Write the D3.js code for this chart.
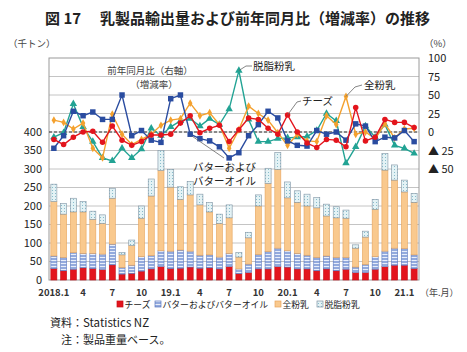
<!DOCTYPE html>
<meta charset="utf-8">
<script src="https://cdn.jsdelivr.net/npm/d3@7"></script>
<style>
  body { margin: 0; background: #fff; }
  text { font-family: "Noto Sans CJK JP", "Noto Sans", sans-serif; fill: #222; }
</style>
<div id="chart"></div>
<script>

// months 2018.1 - 2021.2
var months = ["2018.1","2018.2","2018.3","2018.4","2018.5","2018.6","2018.7","2018.8","2018.9","2018.10","2018.11","2018.12",
              "2019.1","2019.2","2019.3","2019.4","2019.5","2019.6","2019.7","2019.8","2019.9","2019.10","2019.11","2019.12",
              "2020.1","2020.2","2020.3","2020.4","2020.5","2020.6","2020.7","2020.8","2020.9","2020.10","2020.11","2020.12",
              "2021.1","2021.2"];
var tickMonths = ["2018.1","2018.4","2018.7","2018.10","2019.1","2019.4","2019.7","2019.10","2020.1","2020.4","2020.7","2020.10","2021.1"];
var tickLabels = ["2018.1","4","7","10","19.1","4","7","10","20.1","4","7","10","21.1"];

// export volume (thousand tonnes)
var cheese    = [31,25,29,33,31,28,41,16,18,24,30,36,31,32,35,32,33,30,36,17,20,30,30,36,35,30,30,25,30,25,29,20,20,29,36,40,40,31];
var butter    = [34,36,45,39,41,42,56,18,22,39,36,43,47,49,43,35,35,32,36,13,23,39,47,50,44,42,37,36,35,36,32,15,22,34,42,46,45,37];
var wholeMilk = [147,117,110,112,92,83,124,34,53,104,161,217,173,137,152,136,116,91,96,32,71,131,184,213,143,138,133,134,108,107,106,51,74,128,219,184,153,142];
var skimMilk  = [47,29,37,28,22,23,27,6,15,33,46,54,48,34,36,29,25,25,35,12,15,30,41,46,43,31,32,28,32,30,22,9,16,27,45,41,32,24];

// year on year change (%)
var cheeseYoY = [-10,-17,-7,0,1,-14,8,-11,-18,-13,-4,-4,-3,12,22,-1,5,9,-13,3,19,17,5,-3,23,0,-15,-21,-10,-11,-20,33,-12,-7,17,13,13,6];
var butterYoY = [-22,-5,28,22,27,17,17,50,-5,2,-11,-14,45,50,-3,-9,-12,-20,-35,-28,-5,10,28,19,-12,-18,-19,2,-3,0,-11,11,8,-13,-7,-8,2,-13];
var wmpYoY    = [16,13,4,12,-22,-35,24,-3,-17,-10,-3,9,16,18,39,22,26,10,-22,3,35,25,16,-1,-18,-3,-12,-13,22,10,48,-3,0,-9,11,-8,4,5];
var smpYoY    = [-7,-1,38,7,-13,-35,-39,-22,-35,-23,5,-5,7,15,18,8,18,10,31,83,17,-13,-13,-9,-8,-7,-6,2,25,15,-42,-20,8,-7,10,-18,-22,-29];

var leftTicks = [0,50,100,150,200,250,300,350,400];
var rightTicks = [100,75,50,25,0,-25,-50];

var W = 467, H = 352;
var plot = {left: 49, right: 419, top: 58, bottom: 280};

var svg = d3.select("#chart").append("svg")
    .attr("width", W).attr("height", H);

var defs = svg.append("defs");
var pb = defs.append("pattern").attr("id", "butterPat")
    .attr("patternUnits", "userSpaceOnUse").attr("width", 4).attr("height", 3);
pb.append("rect").attr("width", 4).attr("height", 3).attr("fill", "#93aadd");
pb.append("rect").attr("y", 2).attr("width", 4).attr("height", 1).attr("fill", "#e8eefa");
var ps = defs.append("pattern").attr("id", "skimPat")
    .attr("patternUnits", "userSpaceOnUse").attr("width", 3).attr("height", 3);
ps.append("rect").attr("width", 3).attr("height", 3).attr("fill", "#e3f2f5");
ps.append("rect").attr("x", 1).attr("y", 1).attr("width", 1).attr("height", 1).attr("fill", "#88bccb");

var x = d3.scaleBand().domain(months).range([plot.left, plot.right]).paddingInner(0.38).paddingOuter(0.19);
var yL = d3.scaleLinear().domain([0, 600]).range([plot.bottom, plot.top]);
var yR = d3.scaleLinear().domain([-200, 100]).range([plot.bottom, plot.top]);

// title
svg.append("text").attr("x", 45).attr("y", 24)
    .style("font-size", "15px").style("font-weight", "bold")
    .text("図 17");
svg.append("text").attr("x", 100).attr("y", 24)
    .style("font-size", "15px").style("font-weight", "bold")
    .text("乳製品輸出量および前年同月比（増減率）の推移");

svg.append("text").attr("x", 8).attr("y", 47).style("font-size", "9.5px").style("fill", "#444").text("（千トン）");
svg.append("text").attr("x", 424).attr("y", 47).style("font-size", "9.5px").style("fill", "#444").text("（%）");

// grid
svg.append("g").selectAll("line")
  .data(d3.range(50, 600, 50))
  .enter().append("line")
    .attr("x1", plot.left).attr("x2", plot.right)
    .attr("y1", function(d) { return yL(d); })
    .attr("y2", function(d) { return yL(d); })
    .attr("stroke", "#c4c4c4").attr("stroke-width", 1);

svg.append("rect")
    .attr("x", plot.left).attr("y", plot.top)
    .attr("width", plot.right - plot.left).attr("height", plot.bottom - plot.top)
    .attr("fill", "none").attr("stroke", "#9a9a9a");

// stacked bars
var table = months.map(function(m, i) {
  return {month: m, cheese: cheese[i], butter: butter[i], wmp: wholeMilk[i], smp: skimMilk[i]};
});
var keys = ["cheese", "butter", "wmp", "smp"];
var fills = {cheese: "#e3151d", butter: "url(#butterPat)", wmp: "#f9c98e", smp: "url(#skimPat)"};
var strokes = {cheese: "#c81018", butter: "#5b78bf", wmp: "#e7a45c", smp: "#7f93a3"};
var stack = d3.stack().keys(keys)(table);

svg.append("g").selectAll("g")
  .data(stack)
  .enter().append("g")
    .attr("fill", function(d) { return fills[d.key]; })
    .attr("stroke", function(d) { return strokes[d.key]; })
    .attr("stroke-width", 0.6)
  .selectAll("rect")
  .data(function(d) { return d; })
  .enter().append("rect")
    .attr("x", function(d) { return x(d.data.month); })
    .attr("y", function(d) { return yL(d[1]); })
    .attr("width", x.bandwidth())
    .attr("height", function(d) { return yL(d[0]) - yL(d[1]); });

// zero line of right axis
svg.append("line")
    .attr("x1", plot.left).attr("x2", plot.right)
    .attr("y1", yR(0)).attr("y2", yR(0))
    .attr("stroke", "#333").attr("stroke-width", 1.1).attr("stroke-dasharray", "3,2");

// left axis labels
svg.append("g").selectAll("text")
  .data(leftTicks)
  .enter().append("text")
    .attr("x", 42).attr("y", function(d) { return yL(d) + 3.5; })
    .attr("text-anchor", "end")
    .style("font-size", "11px")
    .text(function(d) { return d; });

// right axis labels
svg.append("g").selectAll("text")
  .data(rightTicks)
  .enter().append("text")
    .attr("x", 428).attr("y", function(d) { return yR(d) + 4; })
    .style("font-size", "11px")
    .text(function(d) { return d < 0 ? "▲ " + (-d) : d; });

// x labels
svg.append("g").selectAll("text")
  .data(tickMonths)
  .enter().append("text")
    .attr("x", function(d) { return x(d) + x.bandwidth() / 2; })
    .attr("y", 296)
    .attr("text-anchor", "middle")
    .style("font-size", "9.5px").style("font-weight", "bold").style("fill", "#333")
    .text(function(d, i) { return tickLabels[i]; });
svg.append("text").attr("x", 420).attr("y", 296).style("font-size", "9px").style("fill", "#444").text("（年.月）");

// lines
var cx = function(i) { return x(months[i]) + x.bandwidth() / 2; };
var series = [
  {name: "smp", values: smpYoY, color: "#22a394", shape: d3.symbolTriangle, size: 24},
  {name: "wmp", values: wmpYoY, color: "#f4a12e", shape: d3.symbolDiamond, size: 18},
  {name: "butter", values: butterYoY, color: "#2a4ca0", shape: d3.symbolSquare, size: 30},
  {name: "cheese", values: cheeseYoY, color: "#e3141c", shape: d3.symbolCircle, size: 24}
];
var line = d3.line()
    .x(function(d, i) { return cx(i); })
    .y(function(d) { return yR(d); });

series.forEach(function(s) {
  var g = svg.append("g");
  g.append("path").datum(s.values)
      .attr("d", line).attr("fill", "none")
      .attr("stroke", s.color).attr("stroke-width", 1.4);
  g.selectAll("path.pt")
    .data(s.values)
    .enter().append("path").attr("class", "pt")
      .attr("transform", function(d, i) { return "translate(" + cx(i) + "," + yR(d) + ")"; })
      .attr("d", d3.symbol().type(s.shape).size(s.size))
      .attr("fill", s.color);
});

// annotations
svg.append("text").attr("x", 150).attr("y", 74).attr("text-anchor", "middle")
    .style("font-size", "9.5px").style("fill", "#444").text("前年同月比（右軸）");
svg.append("text").attr("x", 154).attr("y", 88).attr("text-anchor", "middle")
    .style("font-size", "9.5px").style("fill", "#444").text("（増減率）");

function leader(pts) {
  svg.append("path").attr("d", d3.line()(pts))
     .attr("fill", "none").attr("stroke", "#666").attr("stroke-width", 0.8);
}
leader([[cx(19), yR(smpYoY[19])], [246, 66], [252, 66]]);
svg.append("text").attr("x", 253).attr("y", 70).style("font-size", "10.5px").text("脱脂粉乳");
leader([[cx(30), yR(wmpYoY[30])], [355, 87], [362, 85]]);
svg.append("text").attr("x", 364).attr("y", 89).style("font-size", "10.5px").text("全粉乳");
leader([[cx(24), yR(cheeseYoY[24])], [297, 102], [301, 101]]);
svg.append("text").attr("x", 302).attr("y", 105).style("font-size", "10.5px").text("チーズ");
leader([[cx(14) + 2, yR(butterYoY[14]) + 2], [224, 158]]);
svg.append("text").attr("x", 193).attr("y", 171).style("font-size", "10.5px").text("バターおよび");
svg.append("text").attr("x", 193).attr("y", 185).style("font-size", "10.5px").text("バターオイル");

// legend
var legend = [
  {label: "チーズ", fill: "#e3151d", stroke: "#c81018"},
  {label: "バターおよびバターオイル", fill: "url(#butterPat)", stroke: "#5b78bf"},
  {label: "全粉乳", fill: "#f9c98e", stroke: "#e7a45c"},
  {label: "脱脂粉乳", fill: "url(#skimPat)", stroke: "#7f93a3"}
];
var lx = [117, 155, 275, 317];
var lg = svg.append("g").selectAll("g").data(legend).enter().append("g")
    .attr("transform", function(d, i) { return "translate(" + lx[i] + ",305)"; });
lg.append("rect").attr("x", 0).attr("y", -4).attr("width", 6).attr("height", 6)
    .attr("fill", function(d) { return d.fill; })
    .attr("stroke", function(d) { return d.stroke; }).attr("stroke-width", 0.7);
lg.append("text").attr("x", 7.5).attr("y", 3).style("font-size", "8.8px")
    .text(function(d) { return d.label; });

// notes
svg.append("text").attr("x", 83).attr("y", 327).attr("text-anchor", "end").style("font-size", "11px").text("資料：");
svg.append("text").attr("x", 83).attr("y", 327).style("font-size", "11.5px").text("Statistics NZ");
svg.append("text").attr("x", 83).attr("y", 344).attr("text-anchor", "end").style("font-size", "11px").text("注：");
svg.append("text").attr("x", 83).attr("y", 344).style("font-size", "11px").text("製品重量ベース。");

</script>
